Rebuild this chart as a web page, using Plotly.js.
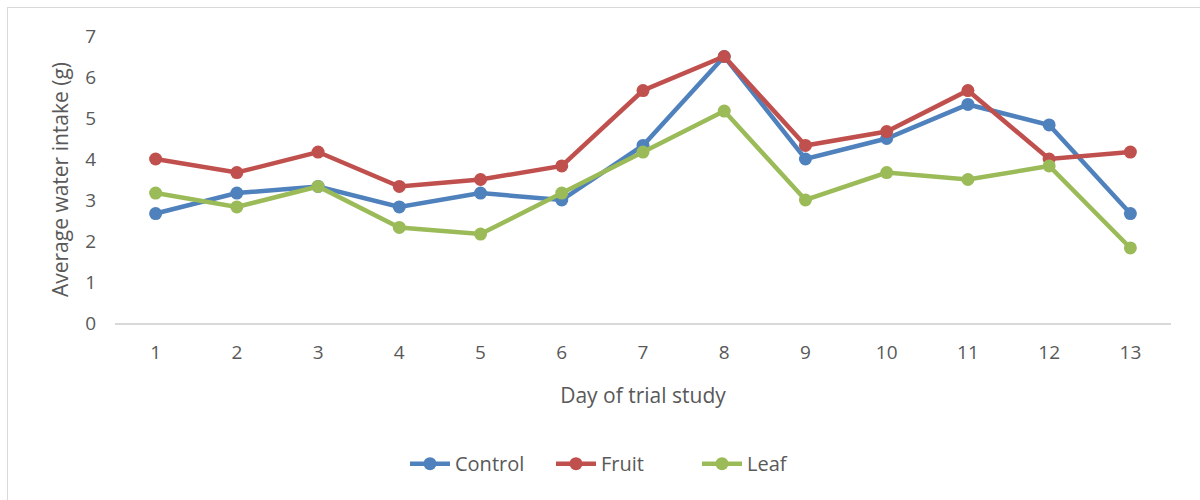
<!DOCTYPE html>
<html>
<head>
<meta charset="utf-8">
<script src="https://cdn.plot.ly/plotly-3.0.1.min.js"></script>
<style>
  html, body { margin: 0; padding: 0; background: #fff; }
  #frame { position: absolute; left: 7px; top: 7px; width: 1300px; height: 600px; border-left: 1.5px solid #d9d9d9; border-top: 1.5px solid #d9d9d9; }
  #chart { position: absolute; left: 0; top: 0; width: 1200px; height: 500px; }
</style>
</head>
<body>
<div id="frame"></div>
<div id="chart"></div>
<script>
const days = [1, 2, 3, 4, 5, 6, 7, 8, 9, 10, 11, 12, 13];
const control = [2.67, 3.17, 3.33, 2.83, 3.17, 3.0, 4.33, 6.5, 4.0, 4.5, 5.33, 4.83, 2.67];
const fruit   = [4.0, 3.67, 4.17, 3.33, 3.5, 3.83, 5.67, 6.5, 4.33, 4.67, 5.67, 4.0, 4.17];
const leaf    = [3.17, 2.83, 3.33, 2.33, 2.17, 3.17, 4.17, 5.17, 3.0, 3.67, 3.5, 3.83, 1.83];
const seriesNames = ["Control", "Fruit", "Leaf"];
const seriesColors = ["#4f81bd", "#c0504d", "#9bbb59"];

const values = [control, fruit, leaf];
const traces = values.map((v, i) => ({
  x: days, y: v, type: "scatter", mode: "lines+markers", name: seriesNames[i],
  line: { color: seriesColors[i], width: 4.5 },
  marker: { color: seriesColors[i], size: 13 }
}));

const fam = "Open Sans, Noto Sans, sans-serif";
const layout = {
  width: 1200, height: 500,
  margin: { l: 115, r: 29, t: 36, b: 177 },
  paper_bgcolor: "rgba(0,0,0,0)", plot_bgcolor: "rgba(0,0,0,0)",
  font: { family: fam, color: "#595959", size: 19 },
  showlegend: true,
  legend: { orientation: "h", x: 0.482, xanchor: "center", y: -0.49, yanchor: "middle",
            font: { family: fam, color: "#595959", size: 20 }, itemwidth: 40,
            entrywidth: 91, entrywidthmode: "pixels" },
  xaxis: {
    range: [0.5, 13.5], tickvals: days, ticktext: days.map(String),
    showgrid: false, zeroline: false, showline: true, linecolor: "#d9d9d9", linewidth: 1.5,
    ticks: "", ticklabelstandoff: 12, fixedrange: true,
    tickfont: { family: fam, color: "#595959", size: 19 },
    title: { text: "Day of trial study", standoff: 24, font: { family: fam, color: "#595959", size: 21 } }
  },
  yaxis: {
    range: [0, 7], dtick: 1, showgrid: false, zeroline: false, showline: false,
    ticks: "", ticklabelstandoff: 18, fixedrange: true,
    tickfont: { family: fam, color: "#595959", size: 19 },
    title: { text: "Average water intake (g)", standoff: 10, font: { family: fam, color: "#595959", size: 21 } }
  }
};
Plotly.newPlot("chart", traces, layout, { displayModeBar: false, staticPlot: true });
</script>
</body>
</html>
